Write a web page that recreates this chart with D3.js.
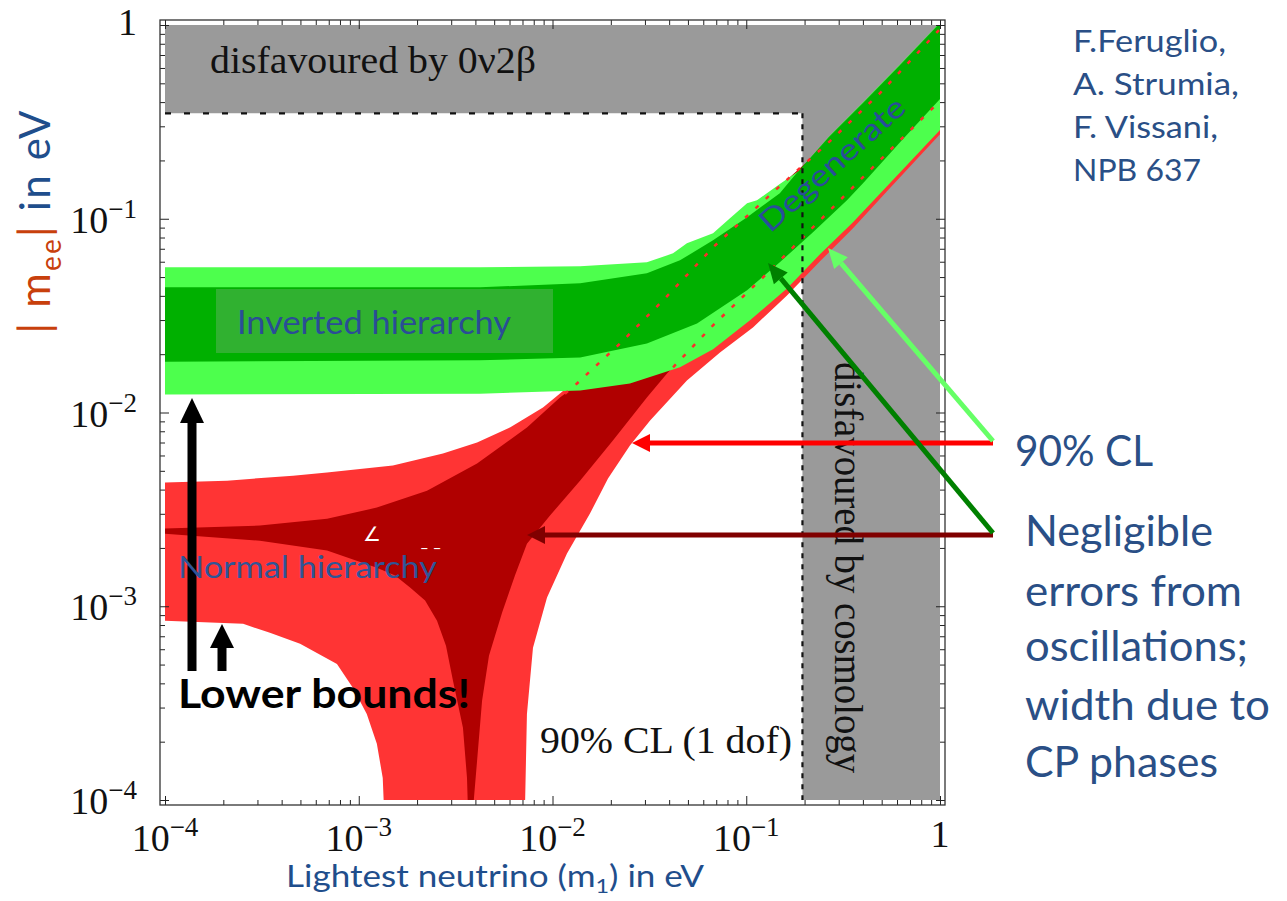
<!DOCTYPE html>
<html>
<head>
<meta charset="utf-8">
<script src="https://cdn.jsdelivr.net/npm/d3@7"></script>
<style>
  body { margin: 0; background: #fff; }
  svg { display: block; }
  .serif { font-family: "Liberation Serif", "DejaVu Serif", serif; }
  .sans { font-family: Lato, "Open Sans", sans-serif; }
</style>
</head>
<body>
<div id="chart-container"></div>
<script>
// lightest neutrino mass m1 (eV) vs |m_ee| (eV), region boundaries

// inverted hierarchy, 90% CL (light green) and best fit (dark green)
const ihLightTop = [[1e-4, 0.0562], [4.23e-3, 0.0562], [0.0139, 0.0568], [0.0307, 0.0596], [0.0419, 0.0663],
    [0.0494, 0.0747], [0.0674, 0.0842], [0.0824, 0.1006], [0.101, 0.1203], [0.1136, 0.1247],
    [0.149, 0.151], [0.189, 0.178], [0.267, 0.266], [0.405, 0.404], [0.622, 0.627], [1, 1.03]];
const ihLightBot = [[1e-4, 0.0124], [4.23e-3, 0.0125], [0.0139, 0.0130], [0.0251, 0.0141], [0.0455, 0.0171],
    [0.0674, 0.0212], [0.1046, 0.0299], [0.1623, 0.0437], [0.2402, 0.0655], [0.3556, 0.0959],
    [0.5326, 0.1472], [1, 0.2867]];
const ihDarkTop = [[1e-4, 0.0443], [4.23e-3, 0.0443], [0.0139, 0.0464], [0.0307, 0.0523], [0.0455, 0.0610],
    [0.0674, 0.0774], [0.101, 0.1018], [0.149, 0.1354], [0.1785, 0.168], [0.267, 0.264],
    [0.405, 0.400], [0.622, 0.621], [1, 1.024]];
const ihDarkBot = [[1e-4, 0.0183], [4.23e-3, 0.0186], [0.0139, 0.0192], [0.0307, 0.0227], [0.0557, 0.0288],
    [0.101, 0.0427], [0.149, 0.0596], [0.221, 0.0852], [0.331, 0.1247], [0.405, 0.1544],
    [0.622, 0.2485], [1, 0.415]];

// normal hierarchy, 90% CL (light red)
const nhLightTop = [[1e-4, 0.00435], [2.09e-4, 0.00445], [4.58e-4, 0.00472], [6.86e-4, 0.0049], [1.50e-3, 0.00532],
    [2.72e-3, 0.00614], [4.08e-3, 0.0070], [6.03e-3, 0.00837], [8.93e-3, 0.01061], [0.01093, 0.01253],
    [0.0223, 0.0227], [0.0674, 0.061], [0.1374, 0.104], [0.2706, 0.2], [0.49, 0.364], [1, 0.743]];
const nhLightBot = [[1e-4, 8.42e-4], [2.53e-4, 8.12e-4], [3.48e-4, 7.29e-4], [4.98e-4, 6.40e-4], [7.72e-4, 5.04e-4],
    [9.34e-4, 3.79e-4], [1.10e-3, 2.78e-4], [1.24e-3, 1.95e-4], [1.33e-3, 1.30e-4], [1.35e-3, 9e-5],
    [7.21e-3, 9e-5], [7.38e-3, 2.78e-4], [7.93e-3, 6.10e-4], [9.37e-3, 1.11e-3], [0.01188, 1.87e-3],
    [0.01561, 3.01e-3], [0.01934, 4.56e-3], [0.0251, 6.75e-3], [0.0319, 9.10e-3], [0.0494, 0.01464],
    [0.0732, 0.0204], [0.1083, 0.0275], [0.1623, 0.0402], [0.2402, 0.0603], [0.3556, 0.0893],
    [0.5326, 0.1387], [1, 0.2733]];

// normal hierarchy, negligible oscillation errors (dark red); the hidden parts show as dotted lines
const nhDarkTop = [[1e-4, 2.52e-3], [3.09e-4, 2.61e-3], [6.86e-4, 2.83e-3], [1.24e-3, 3.23e-3], [2.25e-3, 3.95e-3],
    [4.08e-3, 5.45e-3], [7.38e-3, 8.37e-3], [0.01093, 0.01196]];
const nhDarkTopHidden = [[0.0116, 0.0125], [0.01338, 0.01412], [0.0223, 0.0227], [0.0372, 0.0379], [0.0674, 0.0712],
    [0.1374, 0.137], [0.2706, 0.2515], [0.490, 0.445], [1, 0.954]];
const nhDarkBot = [[1e-4, 2.37e-3], [3.09e-4, 2.18e-3], [6.86e-4, 1.94e-3], [1.24e-3, 1.58e-3], [1.54e-3, 1.44e-3],
    [1.84e-3, 1.25e-3], [2.20e-3, 1.07e-3], [2.535e-3, 8.42e-4], [2.82e-3, 6.25e-4], [3.065e-3, 4.12e-4],
    [3.45e-3, 2.36e-4], [3.62e-3, 1.30e-4], [3.66e-3, 9e-5], [3.89e-3, 9e-5], [4.08e-3, 1.59e-4],
    [4.33e-3, 3.25e-4], [4.70e-3, 5.55e-4], [5.49e-3, 9.25e-4], [6.40e-3, 1.44e-3], [7.38e-3, 2.10e-3],
    [9.71e-3, 2.94e-3], [0.01387, 4.45e-3], [0.0205, 7.17e-3], [0.0307, 0.01196], [0.0390, 0.01591]];
const nhDarkBotHidden = [[0.0419, 0.0171], [0.0674, 0.0282], [0.122, 0.0498], [0.1894, 0.0774], [0.2706, 0.1106],
    [0.3729, 0.1526], [0.622, 0.2544], [1, 0.405]];

// disfavoured bounds
const boundBeta = 0.35;   // |m_ee| from 0v2b
const boundCosmo = 0.195; // m1 from cosmology

// tick labels
const decades = [1e-4, 1e-3, 1e-2, 1e-1, 1];
const decadeBase = ["10", "10", "10", "10", "1"];
const decadeSup = ["\u22124", "\u22123", "\u22122", "\u22121", ""];


const w = 1287;
const h = 901;
const plot = { left: 165, right: 940, top: 25, bottom: 800 };
const frame = { left: 160, right: 945, top: 20, bottom: 805 };

const svg = d3.select('#chart-container')
    .append('svg')
    .attr('width', w)
    .attr('height', h);

const x = d3.scaleLog().domain([1e-4, 1]).range([plot.left, plot.right]);
const y = d3.scaleLog().domain([1e-4, 1]).range([plot.bottom, plot.top]);

const line = d3.line().x(d => x(d[0])).y(d => y(d[1]));
const ring = (top, bot) => line(top.concat(bot.slice().reverse())) + 'Z';

svg.append('clipPath').attr('id', 'clip')
    .append('rect')
    .attr('x', plot.left).attr('y', plot.top)
    .attr('width', plot.right - plot.left).attr('height', plot.bottom - plot.top);

const g = svg.append('g').attr('clip-path', 'url(#clip)');

// grey excluded L
g.append('path')
    .attr('d', line([[1e-4, 1], [1, 1], [1, 1e-4], [boundCosmo, 1e-4], [boundCosmo, boundBeta], [1e-4, boundBeta]]) + 'Z')
    .attr('fill', '#9a9a9a');

g.append('path').attr('d', ring(nhLightTop, nhLightBot)).attr('fill', '#ff3434');
g.append('path').attr('d', ring(nhDarkTop.concat(nhDarkTopHidden), nhDarkBot.concat(nhDarkBotHidden))).attr('fill', '#b00000');
g.append('path').attr('d', ring(ihLightTop, ihLightBot)).attr('fill', '#4dff4d');
g.append('path').attr('d', ring(ihDarkTop, ihDarkBot)).attr('fill', '#00b000');

// dark red edges seen through the green band
[nhDarkTopHidden, nhDarkBotHidden].forEach(d => {
    g.append('path').attr('d', line(d))
        .attr('fill', 'none').attr('stroke', '#ff2a2a')
        .attr('stroke-width', 2.5).attr('stroke-dasharray', '4,10');
});

// dotted bound lines
g.append('path')
    .attr('d', line([[1e-4, boundBeta], [boundCosmo, boundBeta]]))
    .attr('stroke', '#111').attr('stroke-width', 2.2).attr('stroke-dasharray', '6,13');
g.append('path')
    .attr('d', line([[boundCosmo, boundBeta], [boundCosmo, 1e-4]]))
    .attr('stroke', '#111').attr('stroke-width', 2.2).attr('stroke-dasharray', '5,6');

// frame with inward ticks on all four sides
const allTicks = x.ticks();
const isMajor = v => Math.abs(Math.log10(v) - Math.round(Math.log10(v))) < 1e-9;
const majors = allTicks.filter(isMajor);
const minors = allTicks.filter(v => !isMajor(v));

const sides = [
    [d3.axisBottom, x, `translate(0,${frame.bottom})`],
    [d3.axisTop, x, `translate(0,${frame.top})`],
    [d3.axisLeft, y, `translate(${frame.left},0)`],
    [d3.axisRight, y, `translate(${frame.right},0)`]
];
sides.forEach(([axis, scale, tr]) => {
    [[majors, -9], [minors, -5]].forEach(([vals, size]) => {
        svg.append('g')
            .attr('transform', tr)
            .call(axis(scale).tickValues(vals).tickSize(size).tickFormat(''))
            .call(s => s.select('.domain').remove())
            .selectAll('line').attr('stroke', '#222').attr('stroke-width', 1);
    });
});

svg.append('rect')
    .attr('x', frame.left).attr('y', frame.top)
    .attr('width', frame.right - frame.left).attr('height', frame.bottom - frame.top)
    .attr('fill', 'none').attr('stroke', '#333').attr('stroke-width', 1.3);

// tick labels
const xl = svg.append('g').attr('class', 'serif').selectAll('text')
    .data(decades).join('text')
    .attr('x', d => x(d))
    .attr('y', (d, i) => decadeSup[i] ? 851 : 847)
    .attr('text-anchor', 'middle')
    .attr('font-size', 38)
    .attr('fill', '#111');
xl.append('tspan').text((d, i) => decadeBase[i]);
xl.append('tspan').attr('dy', -15).attr('font-size', 27).text((d, i) => decadeSup[i]);

const yl = svg.append('g').attr('class', 'serif').selectAll('text')
    .data(decades).join('text')
    .attr('x', 137)
    .attr('y', (d, i) => y(d) + (decadeSup[i] ? 14 : 10))
    .attr('text-anchor', 'end')
    .attr('font-size', 38)
    .attr('fill', '#111');
yl.append('tspan').text((d, i) => decadeBase[i]);
yl.append('tspan').attr('dy', -15).attr('font-size', 27).text((d, i) => decadeSup[i]);

// texts inside the frame
svg.append('text').attr('class', 'serif')
    .attr('x', 210).attr('y', 73).attr('font-size', 38)
    .attr('textLength', 326).attr('lengthAdjust', 'spacingAndGlyphs')
    .attr('fill', '#111').text('disfavoured by 0\u03bd2\u03b2');

svg.append('text').attr('class', 'serif')
    .attr('transform', 'translate(835,362) rotate(90)')
    .attr('font-size', 39)
    .attr('textLength', 411).attr('lengthAdjust', 'spacingAndGlyphs')
    .attr('fill', '#111').text('disfavoured by cosmology');

svg.append('text').attr('class', 'serif')
    .attr('x', 540).attr('y', 753).attr('font-size', 37)
    .attr('textLength', 252).attr('lengthAdjust', 'spacingAndGlyphs')
    .attr('fill', '#111').text('90% CL (1 dof)');

// label box for the inverted band
svg.append('rect')
    .attr('x', 216).attr('y', 289).attr('width', 337).attr('height', 64)
    .attr('fill', '#30b130');
svg.append('text').attr('class', 'sans')
    .attr('x', 237).attr('y', 334).attr('font-size', 33)
    .attr('textLength', 274).attr('lengthAdjust', 'spacingAndGlyphs')
    .attr('fill', '#2a4d96').text('Inverted hierarchy');

svg.append('text').attr('class', 'sans')
    .attr('transform', 'translate(831,163) rotate(-42)')
    .attr('text-anchor', 'middle').attr('dominant-baseline', 'central')
    .attr('font-size', 30)
    .attr('textLength', 185).attr('lengthAdjust', 'spacingAndGlyphs')
    .attr('fill', '#2a4d9a').text('Degenerate');

// leftover white marks in the dark red area
svg.append('text').attr('class', 'sans')
    .attr('x', 363).attr('y', 541).attr('font-size', 20)
    .attr('fill', '#fff').text('\u2220');
svg.append('text').attr('class', 'sans')
    .attr('x', 420).attr('y', 553).attr('font-size', 16)
    .attr('fill', '#fff').text('\u2012 \u2012');

// arrows
function arrow(x1, y1, x2, y2, color, width, headLen, headHalf) {
    const a = Math.atan2(y2 - y1, x2 - x1);
    const bx = x2 - headLen * Math.cos(a), by = y2 - headLen * Math.sin(a);
    svg.append('line')
        .attr('x1', x1).attr('y1', y1).attr('x2', bx).attr('y2', by)
        .attr('stroke', color).attr('stroke-width', width);
    const px = -Math.sin(a) * headHalf, py = Math.cos(a) * headHalf;
    svg.append('path')
        .attr('d', `M${x2},${y2}L${bx + px},${by + py}L${bx - px},${by - py}Z`)
        .attr('fill', color);
}

arrow(192, 671, 192, 398, '#000', 9, 25, 12);
arrow(222, 671, 222, 624, '#000', 9, 24, 12);
arrow(993, 443, 632, 443, '#ff0000', 5, 18, 9);
arrow(993, 535, 527, 535, '#800000', 5, 18, 9);
arrow(993, 441, 828, 248, '#66ff66', 5, 20, 9);
arrow(993, 533, 768, 263, '#008000', 5, 20, 9);

svg.append('text').attr('class', 'sans')
    .attr('x', 178).attr('y', 578).attr('font-size', 31)
    .attr('textLength', 259).attr('lengthAdjust', 'spacingAndGlyphs')
    .attr('fill', '#2f5597').text('Normal hierarchy');

svg.append('text').attr('class', 'sans')
    .attr('x', 178).attr('y', 708).attr('font-size', 41).attr('font-weight', 'bold')
    .attr('textLength', 292).attr('lengthAdjust', 'spacingAndGlyphs')
    .attr('fill', '#000').text('Lower bounds!');

// axis titles
const yt = svg.append('text').attr('class', 'sans')
    .attr('transform', 'translate(50,222) rotate(-90)')
    .attr('text-anchor', 'middle').attr('font-size', 42)
    .attr('textLength', 223).attr('lengthAdjust', 'spacing');
yt.append('tspan').attr('fill', '#c8400c').text('| m');
yt.append('tspan').attr('fill', '#c8400c').attr('font-size', 28).attr('dy', 11).text('ee');
yt.append('tspan').attr('fill', '#c8400c').attr('dy', -11).text('|');
yt.append('tspan').attr('fill', '#1f4e8c').text(' in eV');

const xt = svg.append('text').attr('class', 'sans')
    .attr('x', 286).attr('y', 887).attr('font-size', 30)
    .attr('textLength', 418).attr('lengthAdjust', 'spacingAndGlyphs')
    .attr('fill', '#1f4e8c');
xt.append('tspan').text('Lightest neutrino (m');
xt.append('tspan').attr('font-size', 20).attr('dy', 6).text('1');
xt.append('tspan').attr('dy', -6).text(') in eV');

// side notes
const sideColor = '#2a4f86';
[['F.Feruglio,', 52, 153], ['A. Strumia,', 95, 166], ['F. Vissani,', 138, 145], ['NPB 637', 181, 128]]
    .forEach(([t, yy, len]) => {
        svg.append('text').attr('class', 'sans')
            .attr('x', 1073).attr('y', yy).attr('font-size', 30)
            .attr('textLength', len).attr('lengthAdjust', 'spacingAndGlyphs')
            .attr('fill', sideColor).text(t);
    });

svg.append('text').attr('class', 'sans')
    .attr('x', 1015).attr('y', 466).attr('font-size', 43)
    .attr('textLength', 138).attr('lengthAdjust', 'spacingAndGlyphs')
    .attr('fill', sideColor).text('90% CL');

[['Negligible', 546, 188], ['errors from', 606, 217], ['oscillations;', 661, 223], ['width due to', 720, 245], ['CP phases', 777, 193]]
    .forEach(([t, yy, len]) => {
        svg.append('text').attr('class', 'sans')
            .attr('x', 1025).attr('y', yy).attr('font-size', 42)
            .attr('textLength', len).attr('lengthAdjust', 'spacingAndGlyphs')
            .attr('fill', sideColor).text(t);
    });
</script>
</body>
</html>
